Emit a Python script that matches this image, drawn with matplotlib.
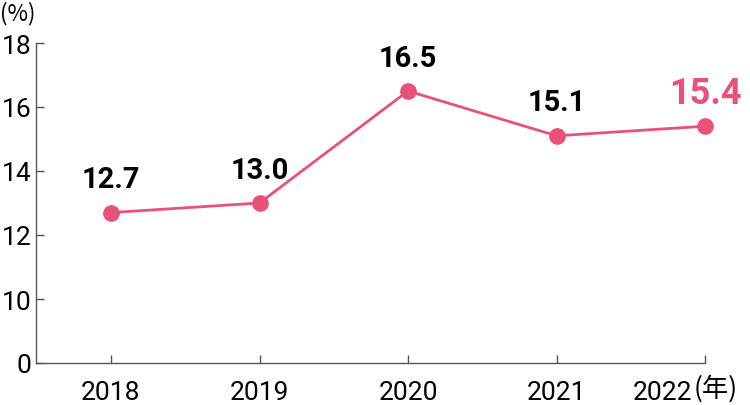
import matplotlib
matplotlib.use("Agg")
import matplotlib.pyplot as plt
from matplotlib.transforms import ScaledTranslation

years = ["2018", "2019", "2020", "2021", "2022"]
values = [12.7, 13.0, 16.5, 15.1, 15.4]
labels = ["12.7", "13.0", "16.5", "15.1", "15.4"]
yticks = [8, 10, 12, 14, 16, 18]
ytick_labels = ["0", "10", "12", "14", "16", "18"]

pink = "#E8517A"
axis_col = "#555555"
font = ["Roboto", "DejaVu Sans"]
cjk = ["Noto Sans CJK JP", "DejaVu Sans"]

fig = plt.figure(figsize=(7.5, 4.06), dpi=100)
ax = fig.add_axes([36/750, 42/406, (705-36)/750, (364-44)/406])
x = list(range(len(years)))
ax.plot(x, values, color=pink, lw=2, marker="o", ms=11, zorder=3, clip_on=False)

for i, (v, lab) in enumerate(zip(values, labels)):
    last = i == len(values) - 1
    ax.annotate(lab, (i, v), xytext=(0, 24), textcoords="offset points",
                ha="center", va="center", fontsize=26 if last else 21,
                fontweight="bold", color=pink if last else "black", family=font)

ax.set_xlim(-75/148.5, 4)
ax.set_ylim(8, 18)
ax.set_xticks(x)
ax.set_xticklabels(years, family=font, fontsize=19)
ax.set_yticks(yticks)
ax.set_yticklabels(ytick_labels, family=font, fontsize=19)
ax.tick_params(direction="in", length=6, width=1, color=axis_col, pad=3)
ax.tick_params(axis="x", pad=12)
for s in ["top", "right"]:
    ax.spines[s].set_visible(False)
for s in ["left", "bottom"]:
    ax.spines[s].set_color(axis_col)
    ax.spines[s].set_linewidth(1)

# shift the last year label left to make room for the unit
last_lab = ax.get_xticklabels()[-1]
last_lab.set_transform(last_lab.get_transform() + ScaledTranslation(-43/100, 0, fig.dpi_scale_trans))

fig.text(0/750, 1 - 14/406, "(%)", family=cjk, fontsize=16, ha="left", va="center")
fig.text(694/750, 1 - 389/406, "(年)", family=cjk, fontsize=19, ha="left", va="center")

fig.savefig("out.png", dpi=100)
